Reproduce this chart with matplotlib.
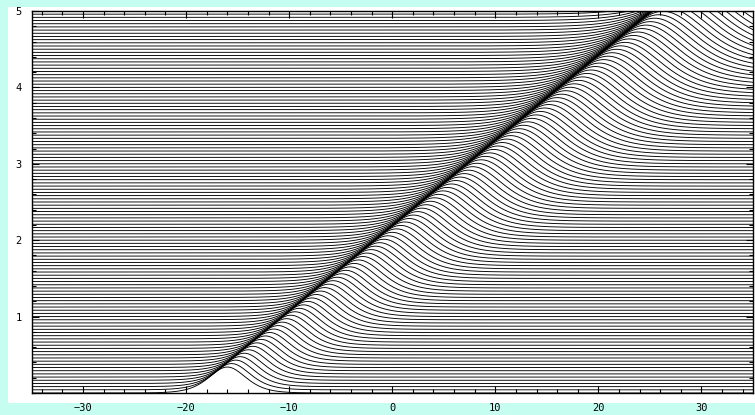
import numpy as np
import matplotlib
matplotlib.use('Agg')
import matplotlib.pyplot as plt
from matplotlib.patches import Rectangle
from matplotlib.ticker import MultipleLocator

# --- values ---
x_range = [-35.0, 35.0]
t_range = [0.0, 5.0]
n_curves = 121          # time slices drawn (about 23 per unit)
pulse_height = 0.34     # bump height at t = 0
pulse_width = 2.4       # sech^2 width parameter at t = 0
pulse_growth = 0.25     # relative growth of height and width per t unit
pulse_start = -16.0     # crest position at t = 0
pulse_speed = 9.85      # crest speed (x units per t unit)
x_ticks = [-30, -20, -10, 0, 10, 20, 30]
y_ticks = [1, 2, 3, 4, 5]

W, H = 755, 415
fig = plt.figure(figsize=(W / 100, H / 100), dpi=100)
fig.patch.set_facecolor('#c6fdf1')
bg = fig.add_axes([0, 0, 1, 1], zorder=-10)
bg.set_xlim(0, W)
bg.set_ylim(H, 0)
bg.axis('off')
bg.add_patch(Rectangle((8, 7), W - 8, 403 - 7, facecolor='white', edgecolor='none'))

ax = fig.add_axes([31.5 / W, (H - 393) / H, (753 - 31.5) / W, (393 - 11) / H])
ax.set_facecolor('white')

x = np.linspace(x_range[0], x_range[1], 1401)
times = np.linspace(t_range[0], t_range[1], n_curves)
for t in times:
    g = 1 + pulse_growth * t
    z = (x - pulse_start - pulse_speed * t) / (pulse_width * g)
    y = t + pulse_height * g / np.cosh(z) ** 2
    ax.plot(x, y, color='black', lw=0.65, solid_joinstyle='round')

ax.set_xlim(*x_range)
ax.set_ylim(*t_range)
ax.set_xticks(x_ticks)
ax.set_yticks(y_ticks)
ax.xaxis.set_minor_locator(MultipleLocator(2))
ax.yaxis.set_minor_locator(MultipleLocator(0.2))
ax.tick_params(which='both', direction='in', top=True, right=True,
               labelsize=7.5, width=0.8, colors='black')
ax.tick_params(which='major', length=5, pad=7)
ax.tick_params(which='minor', length=3)
for lab in ax.get_xticklabels() + ax.get_yticklabels():
    lab.set_family('DejaVu Sans Mono')
for s in ax.spines.values():
    s.set_linewidth(1.0)

fig.savefig('out.png', dpi=100)
